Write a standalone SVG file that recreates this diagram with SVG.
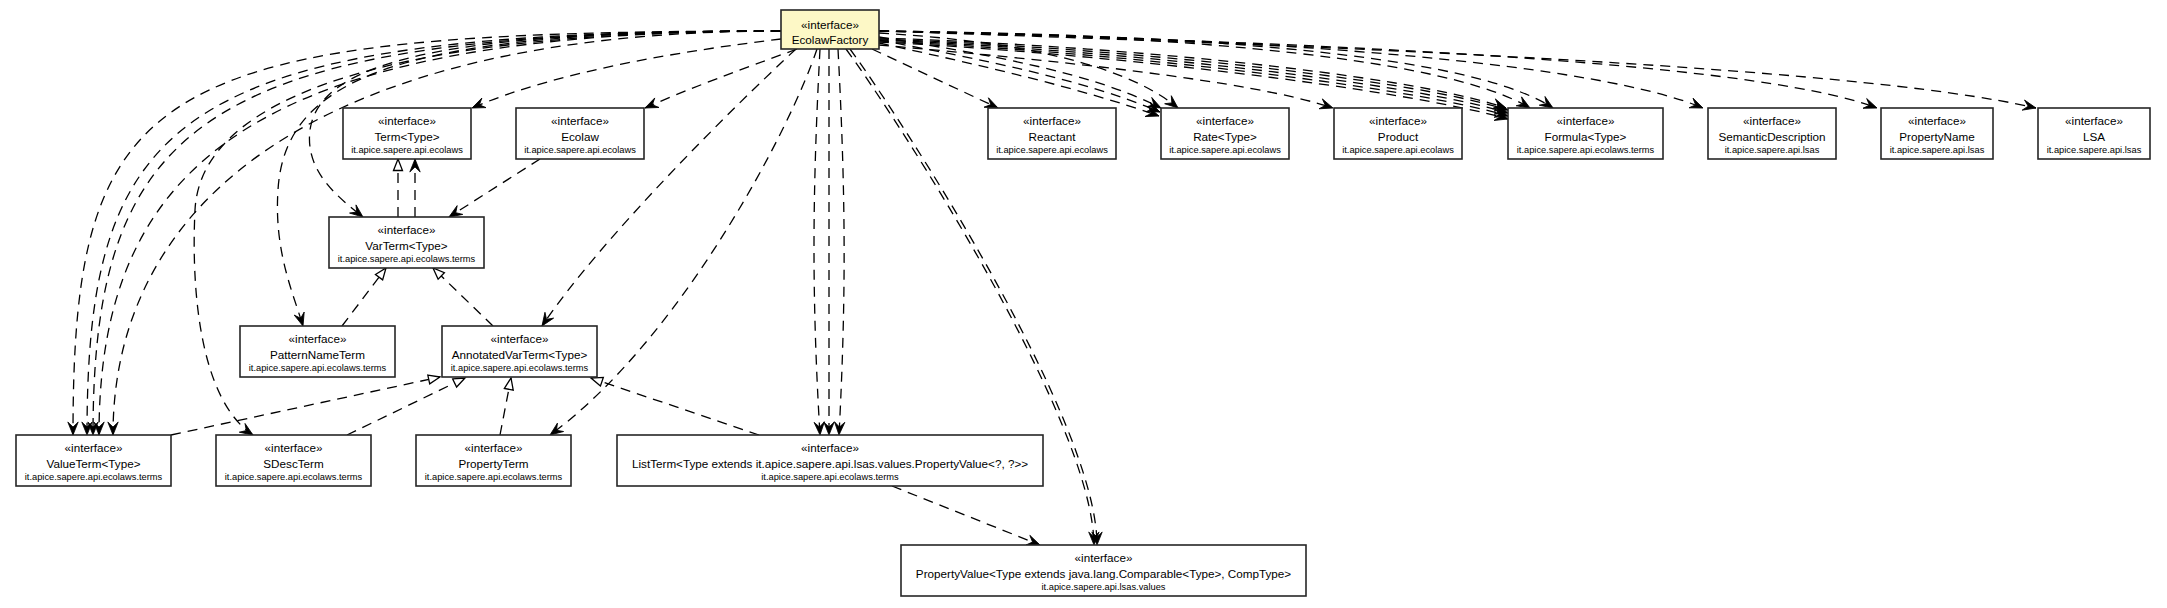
<svg xmlns="http://www.w3.org/2000/svg" width="2167" height="608" viewBox="0 0 2167 608">
<style>
.n rect{fill:#fff;stroke:#262626;stroke-width:1.6}
#n-factory rect{fill:#fdf8c6}
.n text{font-family:"Liberation Sans",Arial,Helvetica,sans-serif;text-anchor:middle;fill:#000}
.s{font-size:11.7px}
.p{font-size:9.3px}
#edges path{fill:none;stroke:#000;stroke-width:1.3;stroke-dasharray:10,7}
#edges .d{marker-end:url(#vee)}
#edges .r{marker-end:url(#tri)}
</style>
<defs>
<marker id="vee" markerUnits="userSpaceOnUse" viewBox="0 0 13 11" refX="13" refY="5.5" markerWidth="13" markerHeight="11" orient="auto" overflow="visible">
<path d="M0,0.3 L13,5.5 L0,10.7 L5,5.5 z" fill="#000" stroke="#000" stroke-width="0.8" stroke-linejoin="miter"/>
</marker>
<marker id="tri" markerUnits="userSpaceOnUse" viewBox="0 0 12 10" refX="12" refY="5" markerWidth="12" markerHeight="10" orient="auto" overflow="visible">
<path d="M0.5,0.5 L12,5 L0.5,9.5 z" fill="#fff" stroke="#000" stroke-width="1.3"/>
</marker>
</defs>
<g id="edges">
<path class="d" d="M781,31 C150,31 73,80 73,435"/>
<path class="d" d="M781,31 C180,31 87,110 87,435"/>
<path class="d" d="M781,31 C210,31 93,115 93,435"/>
<path class="d" d="M781,31 C260,31 99,160 99,435"/>
<path class="d" d="M781,31 C320,31 113,200 113,435"/>
<path class="d" d="M781,31 C350,31 200,110 195,210 C191,290 200,400 253,435"/>
<path class="d" d="M781,31 C420,31 285,70 278,190 C274,250 292,290 303,326"/>
<path class="d" d="M781,31 C450,31 320,60 310,130 C305,170 335,195 363,217"/>
<path class="d" d="M781,39 C690,50 560,70 472,108"/>
<path class="d" d="M797,49 C740,70 690,88 645,108"/>
<path class="d" d="M796,49 C730,110 600,240 542,326"/>
<path class="d" d="M817,49 C790,130 680,340 550,435"/>
<path class="d" d="M820,49 C812,200 812,300 820,435"/>
<path class="d" d="M829,49 L829,435"/>
<path class="d" d="M838,49 C846,200 846,300 839,435"/>
<path class="d" d="M846,49 C898,120 1093,420 1094,545"/>
<path class="d" d="M850,49 C902,120 1097,420 1097,545"/>
<path class="d" d="M872,49 L998,108"/>
<path class="d" d="M879,37 C990,55 1090,72 1161,108"/>
<path class="d" d="M879,40 C985,60 1085,80 1160,112"/>
<path class="d" d="M879,43 C980,65 1080,88 1159,116"/>
<path class="d" d="M879,33 C1000,40 1120,60 1178,108"/>
<path class="d" d="M879,45 C1050,60 1250,80 1333,108"/>
<path class="d" d="M879,38 C1100,45 1400,72 1506,108"/>
<path class="d" d="M879,39 C1100,47 1400,76 1508,110"/>
<path class="d" d="M879,40 C1100,49 1400,80 1508,113"/>
<path class="d" d="M879,41 C1100,51 1400,84 1508,116"/>
<path class="d" d="M879,42 C1100,53 1400,88 1508,119"/>
<path class="d" d="M879,31 C1200,35 1450,60 1530,108"/>
<path class="d" d="M879,31 C1250,35 1480,60 1553,108"/>
<path class="d" d="M879,31 C1300,38 1600,65 1703,108"/>
<path class="d" d="M879,31 C1300,42 1750,60 1877,108"/>
<path class="d" d="M879,31 C1300,45 1850,65 2036,108"/>
<path class="d" d="M540,159 L449,217"/>
<path class="r" d="M398,217 L398,159"/>
<path class="d" d="M415,217 L415,159"/>
<path class="r" d="M342,326 L386,268"/>
<path class="r" d="M493,326 L433,268"/>
<path class="r" d="M171,435 L440,377"/>
<path class="r" d="M347,435 L465,378"/>
<path class="r" d="M500,435 L511,378"/>
<path class="r" d="M759,435 L591,378"/>
<path class="d" d="M892,486 L1040,545"/>
</g>
<g id="n-factory" class="n"><rect x="781" y="10" width="98" height="39"/><text class="s" x="830" y="29">«interface»</text><text class="s" x="830" y="43.5">EcolawFactory</text></g>
<g id="n-term" class="n"><rect x="343" y="108" width="128" height="51"/><text class="s" x="407" y="125">«interface»</text><text class="s" x="407" y="141">Term&lt;Type&gt;</text><text class="p" x="407" y="152.5">it.apice.sapere.api.ecolaws</text></g>
<g id="n-ecolaw" class="n"><rect x="516" y="108" width="128" height="51"/><text class="s" x="580" y="125">«interface»</text><text class="s" x="580" y="141">Ecolaw</text><text class="p" x="580" y="152.5">it.apice.sapere.api.ecolaws</text></g>
<g id="n-reactant" class="n"><rect x="988" y="108" width="128" height="51"/><text class="s" x="1052" y="125">«interface»</text><text class="s" x="1052" y="141">Reactant</text><text class="p" x="1052" y="152.5">it.apice.sapere.api.ecolaws</text></g>
<g id="n-rate" class="n"><rect x="1161" y="108" width="128" height="51"/><text class="s" x="1225" y="125">«interface»</text><text class="s" x="1225" y="141">Rate&lt;Type&gt;</text><text class="p" x="1225" y="152.5">it.apice.sapere.api.ecolaws</text></g>
<g id="n-product" class="n"><rect x="1334" y="108" width="128" height="51"/><text class="s" x="1398" y="125">«interface»</text><text class="s" x="1398" y="141">Product</text><text class="p" x="1398" y="152.5">it.apice.sapere.api.ecolaws</text></g>
<g id="n-formula" class="n"><rect x="1508" y="108" width="155" height="51"/><text class="s" x="1585.5" y="125">«interface»</text><text class="s" x="1585.5" y="141">Formula&lt;Type&gt;</text><text class="p" x="1585.5" y="152.5">it.apice.sapere.api.ecolaws.terms</text></g>
<g id="n-semdesc" class="n"><rect x="1708" y="108" width="128" height="51"/><text class="s" x="1772" y="125">«interface»</text><text class="s" x="1772" y="141">SemanticDescription</text><text class="p" x="1772" y="152.5">it.apice.sapere.api.lsas</text></g>
<g id="n-propname" class="n"><rect x="1881" y="108" width="112" height="51"/><text class="s" x="1937" y="125">«interface»</text><text class="s" x="1937" y="141">PropertyName</text><text class="p" x="1937" y="152.5">it.apice.sapere.api.lsas</text></g>
<g id="n-lsa" class="n"><rect x="2038" y="108" width="112" height="51"/><text class="s" x="2094" y="125">«interface»</text><text class="s" x="2094" y="141">LSA</text><text class="p" x="2094" y="152.5">it.apice.sapere.api.lsas</text></g>
<g id="n-varterm" class="n"><rect x="329" y="217" width="155" height="51"/><text class="s" x="406.5" y="234">«interface»</text><text class="s" x="406.5" y="250">VarTerm&lt;Type&gt;</text><text class="p" x="406.5" y="261.5">it.apice.sapere.api.ecolaws.terms</text></g>
<g id="n-patternname" class="n"><rect x="240" y="326" width="155" height="51"/><text class="s" x="317.5" y="343">«interface»</text><text class="s" x="317.5" y="359">PatternNameTerm</text><text class="p" x="317.5" y="370.5">it.apice.sapere.api.ecolaws.terms</text></g>
<g id="n-annotated" class="n"><rect x="442" y="326" width="155" height="51"/><text class="s" x="519.5" y="343">«interface»</text><text class="s" x="519.5" y="359">AnnotatedVarTerm&lt;Type&gt;</text><text class="p" x="519.5" y="370.5">it.apice.sapere.api.ecolaws.terms</text></g>
<g id="n-valueterm" class="n"><rect x="16" y="435" width="155" height="51"/><text class="s" x="93.5" y="452">«interface»</text><text class="s" x="93.5" y="468">ValueTerm&lt;Type&gt;</text><text class="p" x="93.5" y="479.5">it.apice.sapere.api.ecolaws.terms</text></g>
<g id="n-sdescterm" class="n"><rect x="216" y="435" width="155" height="51"/><text class="s" x="293.5" y="452">«interface»</text><text class="s" x="293.5" y="468">SDescTerm</text><text class="p" x="293.5" y="479.5">it.apice.sapere.api.ecolaws.terms</text></g>
<g id="n-propertyterm" class="n"><rect x="416" y="435" width="155" height="51"/><text class="s" x="493.5" y="452">«interface»</text><text class="s" x="493.5" y="468">PropertyTerm</text><text class="p" x="493.5" y="479.5">it.apice.sapere.api.ecolaws.terms</text></g>
<g id="n-listterm" class="n"><rect x="617" y="435" width="426" height="51"/><text class="s" x="830" y="452">«interface»</text><text class="s" x="830" y="468">ListTerm&lt;Type extends it.apice.sapere.api.lsas.values.PropertyValue&lt;?, ?&gt;&gt;</text><text class="p" x="830" y="479.5">it.apice.sapere.api.ecolaws.terms</text></g>
<g id="n-propertyvalue" class="n"><rect x="901" y="545" width="405" height="51"/><text class="s" x="1103.5" y="562">«interface»</text><text class="s" x="1103.5" y="578">PropertyValue&lt;Type extends java.lang.Comparable&lt;Type&gt;, CompType&gt;</text><text class="p" x="1103.5" y="589.5">it.apice.sapere.api.lsas.values</text></g>
</svg>
